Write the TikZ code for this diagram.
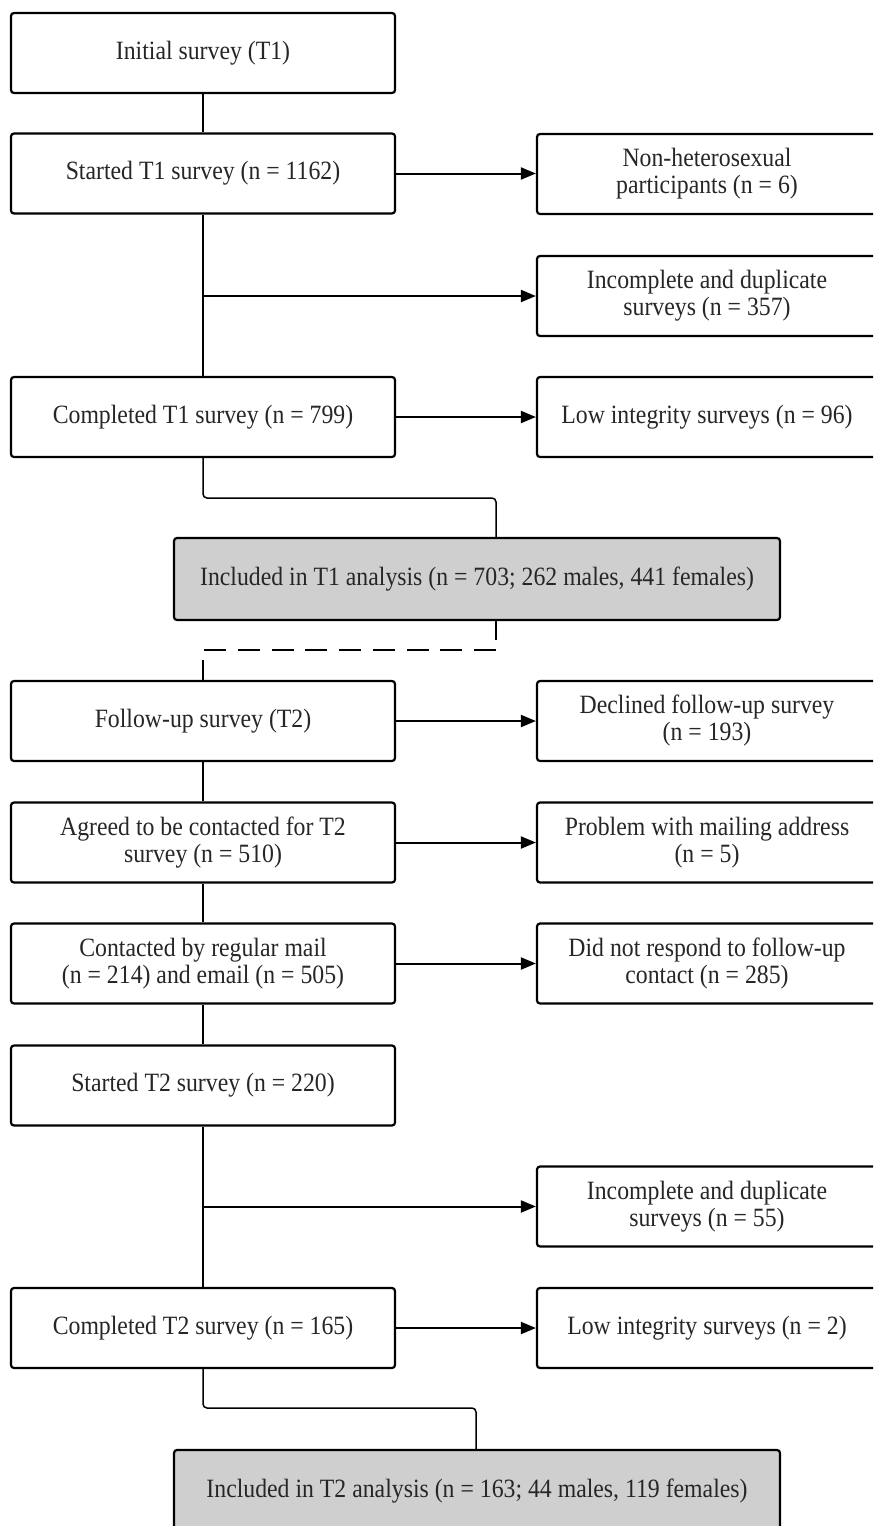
\documentclass[tikz,border=0pt]{standalone}
\usepackage{fontspec}
\setmainfont[FakeStretch=0.9]{Liberation Serif}
\usetikzlibrary{arrows.meta}
\begin{document}
\begin{tikzpicture}[x=0.5pt,y=-0.5pt,
  box/.style={draw=black, line width=1.1pt, rounded corners=1.5pt, fill=white, align=center,
    font=\fontsize{13.2}{13.5}\selectfont, inner sep=0pt, text=black!85},
  lbox/.style={box, minimum width=192pt, minimum height=40pt},
  rbox/.style={box, minimum width=170pt, minimum height=40pt},
  gbox/.style={box, fill=black!19, minimum width=303pt, minimum height=41pt},
  conn/.style={line width=0.75pt},
  arr/.style={line width=1pt, -{Triangle[length=7.5pt,width=6pt]}},
  dashline/.style={line width=1pt, dash pattern=on 11pt off 5.875pt},
]
\useasboundingbox (0,0) rectangle (873,1526);
\clip (0,0) rectangle (873,1526);

% left column
\node[lbox] (init) at (203,53) {Initial survey (T1)};
\node[lbox] (s1) at (203,173.5) {Started T1 survey (n = 1162)};
\node[lbox] (c1) at (203,417) {Completed T1 survey (n = 799)};
\node[lbox] (fu) at (203,721) {Follow-up survey (T2)};
\node[lbox] (ag) at (203,842.5) {Agreed to be contacted for T2\\survey (n = 510)};
\node[lbox] (ct) at (203,963.5) {Contacted by regular mail\\(n = 214) and email (n = 505)};
\node[lbox] (s2) at (203,1085.5) {Started T2 survey (n = 220)};
\node[lbox] (c2) at (203,1328) {Completed T2 survey (n = 165)};

% right column
\node[rbox] (nh) at (707,174) {Non-heterosexual\\participants (n = 6)};
\node[rbox] (inc1) at (707,296) {Incomplete and duplicate\\surveys (n = 357)};
\node[rbox] (lo1) at (707,417) {Low integrity surveys (n = 96)};
\node[rbox] (dec) at (707,721) {Declined follow-up survey\\(n = 193)};
\node[rbox] (pr) at (707,842.5) {Problem with mailing address\\(n = 5)};
\node[rbox] (dnr) at (707,963.5) {Did not respond to follow-up\\contact (n = 285)};
\node[rbox] (inc2) at (707,1206.5) {Incomplete and duplicate\\surveys (n = 55)};
\node[rbox] (lo2) at (707,1328) {Low integrity surveys (n = 2)};

% included boxes
\node[gbox] (in1) at (477,579) {Included in T1 analysis (n = 703; 262 males, 441 females)};
\node[gbox] (in2) at (477,1491) {Included in T2 analysis (n = 163; 44 males, 119 females)};

% vertical flow
\draw[conn] (init.south) -- (s1.north);
\draw[conn] (s1.south) -- (c1.north);
\draw[conn] (fu.south) -- (ag.north);
\draw[conn] (ag.south) -- (ct.north);
\draw[conn] (ct.south) -- (s2.north);
\draw[conn] (s2.south) -- (c2.north);

% branches
\coordinate (b1) at (203,296);
\coordinate (b2) at (203,1206.5);
\draw[arr] (s1.east) -- (s1.east -| nh.west);
\draw[arr] (b1) -- (b1 -| inc1.west);
\draw[arr] (c1.east) -- (lo1.west);
\draw[arr] (fu.east) -- (dec.west);
\draw[arr] (ag.east) -- (pr.west);
\draw[arr] (ct.east) -- (dnr.west);
\draw[arr] (b2) -- (b2 -| inc2.west);
\draw[arr] (c2.east) -- (lo2.west);

% to included T1
\coordinate (e1) at (203,498);
\coordinate (e2) at (496,498);
\draw[conn, rounded corners=2pt] (c1.south) -- (e1) -- (e2) -- (in1.north -| e2);

% break between T1 and T2
\coordinate (d1) at (496,640);
\coordinate (d2) at (496,650);
\coordinate (d3) at (203,650);
\coordinate (d4) at (203,660);
\draw[conn] (in1.south -| d1) -- (d1);
\draw[dashline] (d2) -- (d3);
\draw[conn] (d4) -- (fu.north);

% to included T2
\coordinate (f1) at (203,1408);
\coordinate (f2) at (476,1408);
\draw[conn, rounded corners=2pt] (c2.south) -- (f1) -- (f2) -- (in2.north -| f2);
\end{tikzpicture}
\end{document}
